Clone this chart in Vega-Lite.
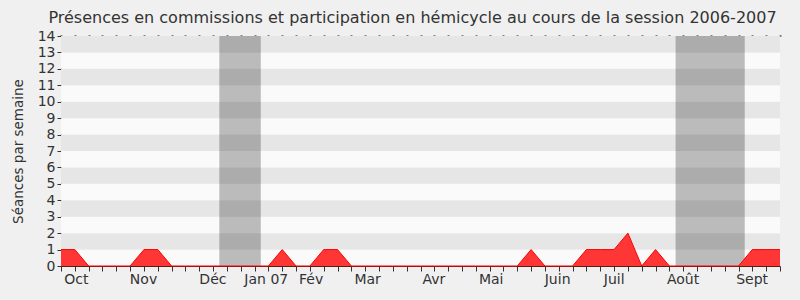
{
  "$schema": "https://vega.github.io/schema/vega-lite/v6.json",
  "width": 719,
  "height": 230,
  "autosize": {"type": "none"},
  "padding": {"left": 61, "top": 36, "right": 20, "bottom": 34},
  "background": "#f0f0f0",
  "config": {
    "font": "DejaVu Sans",
    "view": {"stroke": null},
    "axis": {"labelColor": "#333333", "titleColor": "#333333", "tickColor": "#333333", "domainColor": "#333333"}
  },
  "title": {
    "text": "Présences en commissions et participation en hémicycle au cours de la session 2006-2007",
    "fontSize": 16,
    "fontWeight": "normal",
    "color": "#333333",
    "anchor": "middle",
    "frame": "group",
    "dx": -8,
    "dy": 19,
    "offset": 9,
    "baseline": "alphabetic"
  },
  "datasets": {
    "bandes": [
      {"bas": 0, "haut": 1, "teinte": "claire"},
      {"bas": 1, "haut": 2, "teinte": "sombre"},
      {"bas": 2, "haut": 3, "teinte": "claire"},
      {"bas": 3, "haut": 4, "teinte": "sombre"},
      {"bas": 4, "haut": 5, "teinte": "claire"},
      {"bas": 5, "haut": 6, "teinte": "sombre"},
      {"bas": 6, "haut": 7, "teinte": "claire"},
      {"bas": 7, "haut": 8, "teinte": "sombre"},
      {"bas": 8, "haut": 9, "teinte": "claire"},
      {"bas": 9, "haut": 10, "teinte": "sombre"},
      {"bas": 10, "haut": 11, "teinte": "claire"},
      {"bas": 11, "haut": 12, "teinte": "sombre"},
      {"bas": 12, "haut": 13, "teinte": "claire"},
      {"bas": 13, "haut": 14, "teinte": "sombre"}
    ],
    "vacances": [
      {"debut": 11.45, "fin": 14.45},
      {"debut": 44.45, "fin": 49.45}
    ],
    "seances": [
      {"semaine": 0, "n": 1}, {"semaine": 1, "n": 1}, {"semaine": 2, "n": 0}, {"semaine": 3, "n": 0},
      {"semaine": 4, "n": 0}, {"semaine": 5, "n": 0}, {"semaine": 6, "n": 1}, {"semaine": 7, "n": 1},
      {"semaine": 8, "n": 0}, {"semaine": 9, "n": 0}, {"semaine": 10, "n": 0}, {"semaine": 11, "n": 0},
      {"semaine": 12, "n": 0}, {"semaine": 13, "n": 0}, {"semaine": 14, "n": 0}, {"semaine": 15, "n": 0},
      {"semaine": 16, "n": 1}, {"semaine": 17, "n": 0}, {"semaine": 18, "n": 0}, {"semaine": 19, "n": 1},
      {"semaine": 20, "n": 1}, {"semaine": 21, "n": 0}, {"semaine": 22, "n": 0}, {"semaine": 23, "n": 0},
      {"semaine": 24, "n": 0}, {"semaine": 25, "n": 0}, {"semaine": 26, "n": 0}, {"semaine": 27, "n": 0},
      {"semaine": 28, "n": 0}, {"semaine": 29, "n": 0}, {"semaine": 30, "n": 0}, {"semaine": 31, "n": 0},
      {"semaine": 32, "n": 0}, {"semaine": 33, "n": 0}, {"semaine": 34, "n": 1}, {"semaine": 35, "n": 0},
      {"semaine": 36, "n": 0}, {"semaine": 37, "n": 0}, {"semaine": 38, "n": 1}, {"semaine": 39, "n": 1},
      {"semaine": 40, "n": 1}, {"semaine": 41, "n": 2}, {"semaine": 42, "n": 0}, {"semaine": 43, "n": 1},
      {"semaine": 44, "n": 0}, {"semaine": 45, "n": 0}, {"semaine": 46, "n": 0}, {"semaine": 47, "n": 0},
      {"semaine": 48, "n": 0}, {"semaine": 49, "n": 0}, {"semaine": 50, "n": 1}, {"semaine": 51, "n": 1},
      {"semaine": 52, "n": 1}
    ]
  },
  "layer": [
    {
      "data": {"name": "bandes"},
      "mark": {"type": "rect"},
      "encoding": {
        "x": {
          "datum": 0,
          "type": "quantitative",
          "scale": {"domain": [0, 52], "nice": false, "zero": false},
          "axis": {
            "orient": "bottom",
            "values": [0,1,2,3,4,5,6,7,8,9,10,11,12,13,14,15,16,17,18,19,20,21,22,23,24,25,26,27,28,29,30,31,32,33,34,35,36,37,38,39,40,41,42,43,44,45,46,47,48,49,50,51,52],
            "labels": false,
            "ticks": true,
            "tickSize": 5,
            "domain": false,
            "grid": false,
            "title": null
          }
        },
        "x2": {"datum": 52},
        "y": {
          "field": "bas",
          "type": "quantitative",
          "scale": {"domain": [0, 14], "nice": false},
          "title": "Séances par semaine",
          "axis": {
            "values": [0,1,2,3,4,5,6,7,8,9,10,11,12,13,14],
            "tickSize": 4,
            "labelFontSize": 14,
            "labelPadding": 2,
            "labelOverlap": false,
            "labelFlush": false,
            "labelBound": false,
            "grid": false,
            "titleFontSize": 13.5,
            "titleFontWeight": "normal",
            "titlePadding": 12
          }
        },
        "y2": {"field": "haut"},
        "color": {
          "field": "teinte",
          "type": "nominal",
          "scale": {"domain": ["claire", "sombre"], "range": ["#fafafa", "#e6e6e6"]},
          "legend": null
        }
      }
    },
    {
      "data": {"name": "vacances"},
      "mark": {"type": "rect", "color": "#000000", "opacity": 0.25},
      "encoding": {
        "x": {
          "field": "debut",
          "type": "quantitative",
          "axis": {
            "orient": "top",
            "values": [0,1,2,3,4,5,6,7,8,9,10,11,12,13,14,15,16,17,18,19,20,21,22,23,24,25,26,27,28,29,30,31,32,33,34,35,36,37,38,39,40,41,42,43,44,45,46,47,48,49,50,51,52],
            "labels": false,
            "ticks": true,
            "tickSize": 1,
            "tickWidth": 2,
            "tickColor": "#111111",
            "domain": false,
            "grid": false,
            "title": null
          }
        },
        "x2": {"field": "fin"},
        "y": {
          "datum": 0,
          "type": "quantitative",
          "title": "Séances par semaine",
          "axis": {
            "values": [0,1,2,3,4,5,6,7,8,9,10,11,12,13,14],
            "tickSize": 4,
            "labelFontSize": 14,
            "labelPadding": 2,
            "labelOverlap": false,
            "labelFlush": false,
            "labelBound": false,
            "grid": false,
            "titleFontSize": 13.5,
            "titleFontWeight": "normal",
            "titlePadding": 12
          }
        },
        "y2": {"datum": 14}
      }
    },
    {
      "data": {"name": "seances"},
      "mark": {"type": "area", "color": "#ff3636", "opacity": 1, "line": {"color": "#ff0000", "strokeWidth": 1}},
      "encoding": {
        "x": {
          "field": "semaine",
          "type": "quantitative",
          "axis": {
            "orient": "bottom",
            "values": [1.07, 5.93, 10.95, 14.81, 18.05, 22.14, 26.93, 31.08, 35.88, 39.97, 44.95, 49.95],
            "labelExpr": "['Oct','Nov','Déc','Jan 07','Fév','Mar','Avr','Mai','Juin','Juil','Août','Sept'][indexof([1.07, 5.93, 10.95, 14.81, 18.05, 22.14, 26.93, 31.08, 35.88, 39.97, 44.95, 49.95], datum.value)]",
            "labelFontSize": 14,
            "labelPadding": 6,
            "labelFlush": false,
            "labelOverlap": false,
            "ticks": false,
            "domain": true,
            "domainColor": "#5a1e10",
            "grid": false,
            "title": null
          }
        },
        "y": {
          "field": "n",
          "type": "quantitative",
          "title": "Séances par semaine",
          "axis": {
            "values": [0,1,2,3,4,5,6,7,8,9,10,11,12,13,14],
            "tickSize": 4,
            "labelFontSize": 14,
            "labelPadding": 2,
            "labelOverlap": false,
            "labelFlush": false,
            "labelBound": false,
            "grid": false,
            "titleFontSize": 13.5,
            "titleFontWeight": "normal",
            "titlePadding": 12
          }
        }
      }
    }
  ],
  "resolve": {"axis": {"x": "independent"}}
}
